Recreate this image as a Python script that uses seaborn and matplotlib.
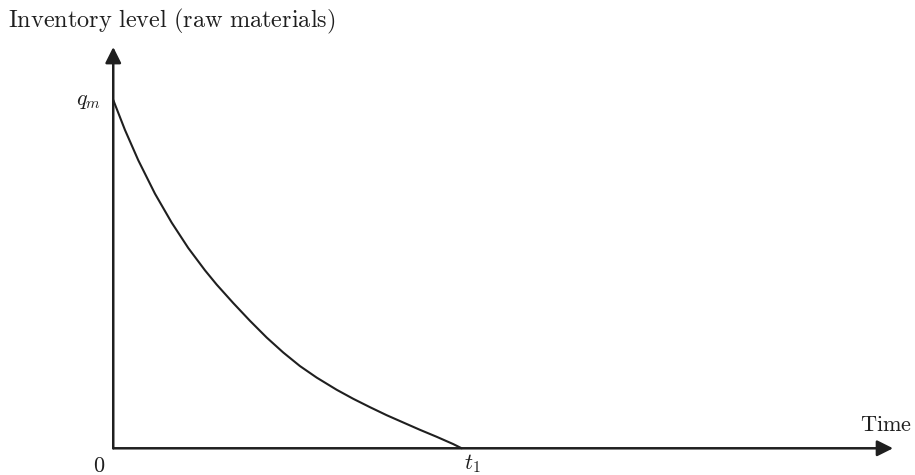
import matplotlib

matplotlib.use("Agg")
import matplotlib.pyplot as plt
import pandas as pd
import seaborn as sns

sns.set_style("white")
plt.rcParams["mathtext.fontset"] = "cm"
plt.rcParams["font.family"] = ["DejaVu Serif"]

# curve: time as a fraction of t1, level as a fraction of q_m
time_frac = [0.0, 0.0336, 0.0718, 0.1197, 0.1676, 0.2153, 0.2632, 0.2968, 0.3444,
             0.3924, 0.4403, 0.4879, 0.5359, 0.5838, 0.6412, 0.6889, 0.7368, 0.7847,
             0.8324, 0.8803, 0.9282, 0.9759, 1.0]
level_frac = [1.0, 0.914, 0.827, 0.731, 0.648, 0.575, 0.511, 0.470, 0.417,
              0.366, 0.318, 0.275, 0.236, 0.203, 0.168, 0.142, 0.118, 0.095,
              0.074, 0.053, 0.033, 0.012, 0.0]

x_label = "Time"
y_label = "Inventory level (raw materials)"
tick_labels = {"origin": "$0$", "t1": "$t_1$", "qm": "$q_m$"}

X_AXIS_END = 2.238
Y_AXIS_END = 1.152
INK = "#1f1f1f"


def main():
    df = pd.DataFrame({"t": time_frac, "q": level_frac})

    fig = plt.figure(figsize=(9.15, 4.75), dpi=100)
    ax = fig.add_axes([0, 0, 1, 1])
    ax.set_xlim(-0.325, 2.301)
    ax.set_ylim(-0.0767, 1.287)
    ax.axis("off")

    sns.lineplot(data=df, x="t", y="q", ax=ax, color=INK, linewidth=1.5,
                 sort=False, estimator=None)

    arrow = dict(arrowstyle="-|>", color=INK, lw=1.8, shrinkA=0, shrinkB=0,
                 mutation_scale=24)
    ax.annotate("", xy=(X_AXIS_END, 0), xytext=(0, 0), arrowprops=arrow)
    ax.annotate("", xy=(0, Y_AXIS_END), xytext=(0, 0), arrowprops=arrow)

    ax.text(-0.04, -0.05, tick_labels["origin"], fontsize=16, ha="center",
            va="center", color=INK)
    ax.text(1.03, -0.045, tick_labels["t1"], fontsize=16, ha="center",
            va="center", color=INK)
    ax.text(-0.07, 1.0, tick_labels["qm"], fontsize=16, ha="center",
            va="center", color=INK)
    ax.text(2.301 - 3 / 348.4, 0.05, "$\\mathrm{" + x_label + "}$", fontsize=16,
            ha="right", va="baseline", color=INK)
    fig.text(8 / 915, 1 - 27 / 475,
             "$\\mathrm{" + y_label.replace(" ", "\\ ") + "}$",
             fontsize=17.5, ha="left", va="baseline", color=INK)

    fig.savefig("out.png", dpi=100)
    plt.close(fig)


if __name__ == "__main__":
    main()
